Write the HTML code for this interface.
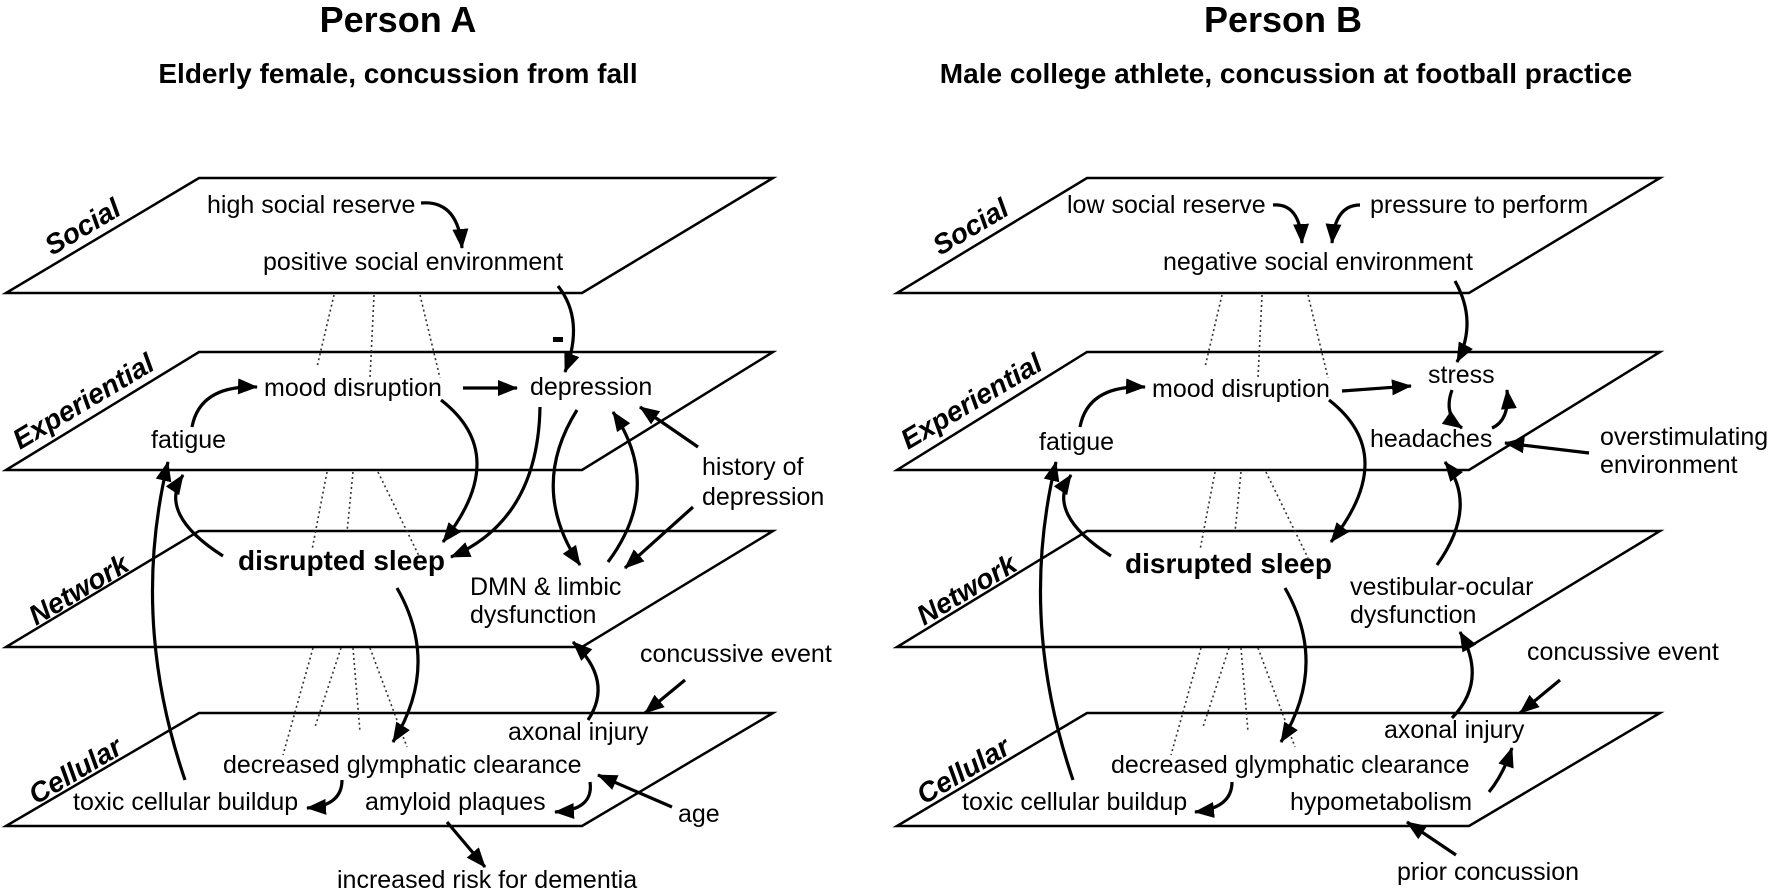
<!DOCTYPE html>
<html><head><meta charset="utf-8"><style>
html,body{margin:0;padding:0;background:#fff;}
svg{display:block;}
text{font-family:"Liberation Sans",Arial,sans-serif;fill:#000;}
.t{font-size:25px;}
.b{font-size:28px;font-weight:bold;}
.L{font-size:28px;font-weight:bold;font-style:italic;}
.pl{fill:#fff;stroke:#000;stroke-width:2.5;}
.a{fill:none;stroke:#000;stroke-width:3.2;marker-end:url(#ah);}
.d{fill:none;stroke:#333;stroke-width:1.6;stroke-dasharray:2 3;}
</style></head><body>
<svg width="1772" height="893" viewBox="0 0 1772 893" xmlns="http://www.w3.org/2000/svg">
<defs>
<marker id="ah" markerUnits="userSpaceOnUse" markerWidth="22" markerHeight="18" refX="19" refY="8" orient="auto">
<path d="M0,0 L20,8 L0,16 Z" fill="#000"/>
</marker>
</defs>

<text x="398" y="32" text-anchor="middle" style="font-size:36px;font-weight:bold">Person A</text>
<text x="398" y="83" text-anchor="middle" style="font-size:28px;font-weight:bold">Elderly female, concussion from fall</text>
<text x="1283" y="32" text-anchor="middle" style="font-size:36px;font-weight:bold">Person B</text>
<text x="1286" y="83" text-anchor="middle" style="font-size:28px;font-weight:bold">Male college athlete, concussion at football practice</text>

<!-- Person A planes -->
<g id="planesA">
<polygon class="pl" points="199,178 773,178 582,293 6,293"/>
<polygon class="pl" points="199,352 773,352 582,470 6,470"/>
<polygon class="pl" points="199,531 773,531 582,647 6,647"/>
<polygon class="pl" points="199,713 773,713 582,826 6,826"/>
</g>
<!-- Person B planes -->
<polygon class="pl" points="1087,178 1660,178 1469,293 897,293"/>
<polygon class="pl" points="1087,352 1660,352 1469,470 897,470"/>
<polygon class="pl" points="1087,531 1660,531 1469,647 897,647"/>
<polygon class="pl" points="1087,713 1660,713 1469,826 897,826"/>

<!-- Layer labels A -->
<text class="L" transform="translate(52,256) rotate(-30.8)">Social</text>
<text class="L" transform="translate(20,450) rotate(-30.8)">Experiential</text>
<text class="L" transform="translate(36,626) rotate(-30.8)">Network</text>
<text class="L" transform="translate(36,805) rotate(-30.8)">Cellular</text>
<!-- Layer labels B -->
<text class="L" transform="translate(940,256) rotate(-30.8)">Social</text>
<text class="L" transform="translate(908,450) rotate(-30.8)">Experiential</text>
<text class="L" transform="translate(924,626) rotate(-30.8)">Network</text>
<text class="L" transform="translate(924,805) rotate(-30.8)">Cellular</text>

<!-- dotted lines A -->
<g id="dotsA">
<path class="d" d="M334,295 L317,367 M374,295 L370,378 M420,295 L440,378"/>
<path class="d" d="M327,472 L312,550 M353,472 L347,532 M378,472 L420,558"/>
<path class="d" d="M313,648 L283,755 M341,648 L315,727 M353,648 L360,732 M370,648 L407,747"/>
</g>
<g transform="translate(888,0)">
<path class="d" d="M334,295 L317,367 M374,295 L370,378 M420,295 L440,378"/>
<path class="d" d="M327,472 L312,550 M353,472 L347,532 M378,472 L420,558"/>
<path class="d" d="M313,648 L283,755 M341,648 L315,727 M353,648 L360,732 M370,648 L407,747"/>
</g>

<!-- Person A text -->
<text class="t" x="207" y="213">high social reserve</text>
<text class="t" x="263" y="270">positive social environment</text>
<rect x="553" y="337" width="10" height="5" fill="#000"/>
<text class="t" x="264" y="396">mood disruption</text>
<text class="t" x="530" y="395">depression</text>
<text class="t" x="151" y="448">fatigue</text>
<text class="t" x="702" y="475">history of</text>
<text class="t" x="702" y="505">depression</text>
<text class="b" x="238" y="570">disrupted sleep</text>
<text class="t" x="470" y="595">DMN &amp; limbic</text>
<text class="t" x="470" y="623">dysfunction</text>
<text class="t" x="640" y="662">concussive event</text>
<text class="t" x="508" y="740">axonal injury</text>
<text class="t" x="223" y="773">decreased glymphatic clearance</text>
<text class="t" x="73" y="810">toxic cellular buildup</text>
<text class="t" x="365" y="810">amyloid plaques</text>
<text class="t" x="678" y="822">age</text>
<text class="t" x="337" y="888">increased risk for dementia</text>

<!-- Person A arrows -->
<path class="a" d="M421,203 Q458,200 462,248"/>
<path class="a" d="M558,286 Q585,320 565,372"/>
<path class="a" d="M192,427 Q200,385 257,387"/>
<path class="a" d="M463,388 L517,388"/>
<path class="a" d="M441,400 Q512,455 443,542"/>
<path class="a" d="M540,407 Q538,520 451,557"/>
<path class="a" d="M577,410 Q528,488 580,565"/>
<path class="a" d="M608,562 Q664,487 613,412"/>
<path class="a" d="M698,447 L640,407"/>
<path class="a" d="M693,507 L625,568"/>
<path class="a" d="M223,556 Q157,514 183,475"/>
<path class="a" d="M185,780 Q130,619 168,462"/>
<path class="a" d="M397,588 Q441,665 393,742"/>
<path class="a" d="M588,720 Q614,681 573,642"/>
<path class="a" d="M685,680 L645,713"/>
<path class="a" d="M342,780 Q342,806 307,808"/>
<path class="a" d="M590,782 Q594,810 555,812"/>
<path class="a" d="M672,807 L598,775"/>
<path class="a" d="M447,822 L485,867"/>

<!-- Person B text -->
<text class="t" x="1067" y="213">low social reserve</text>
<text class="t" x="1370" y="213">pressure to perform</text>
<text class="t" x="1163" y="270">negative social environment</text>
<text class="t" x="1152" y="397">mood disruption</text>
<text class="t" x="1428" y="383">stress</text>
<text class="t" x="1039" y="450">fatigue</text>
<text class="t" x="1370" y="447">headaches</text>
<text class="t" x="1600" y="445">overstimulating</text>
<text class="t" x="1600" y="473">environment</text>
<text class="b" x="1125" y="573">disrupted sleep</text>
<text class="t" x="1350" y="595">vestibular-ocular</text>
<text class="t" x="1350" y="623">dysfunction</text>
<text class="t" x="1527" y="660">concussive event</text>
<text class="t" x="1384" y="738">axonal injury</text>
<text class="t" x="1111" y="773">decreased glymphatic clearance</text>
<text class="t" x="962" y="810">toxic cellular buildup</text>
<text class="t" x="1290" y="810">hypometabolism</text>
<text class="t" x="1397" y="880">prior concussion</text>

<!-- Person B arrows -->
<g transform="translate(888,0)">
<path class="a" d="M192,427 Q200,385 257,387"/>
<path class="a" d="M441,400 Q512,455 443,542"/>
<path class="a" d="M223,556 Q157,514 183,475"/>
<path class="a" d="M185,780 Q130,619 168,462"/>
<path class="a" d="M397,588 Q441,665 393,742"/>
<path class="a" d="M344,782 Q344,808 307,812"/>
</g>
<path class="a" d="M1273,205 Q1300,203 1302,243"/>
<path class="a" d="M1360,205 Q1335,205 1332,243"/>
<path class="a" d="M1455,281 Q1478,322 1457,362"/>
<path class="a" d="M1342,391 L1411,386"/>
<path class="a" d="M1452,390 Q1443,415 1462,428"/>
<path class="a" d="M1492,428 Q1510,420 1507,390"/>
<path class="a" d="M1589,453 L1505,443"/>
<path class="a" d="M1437,565 Q1479,506 1445,462"/>
<path class="a" d="M1452,718 Q1488,681 1460,632"/>
<path class="a" d="M1560,680 L1520,713"/>
<path class="a" d="M1489,792 Q1503,775 1512,748"/>
<path class="a" d="M1456,855 L1407,822"/>
</svg>
</body></html>
